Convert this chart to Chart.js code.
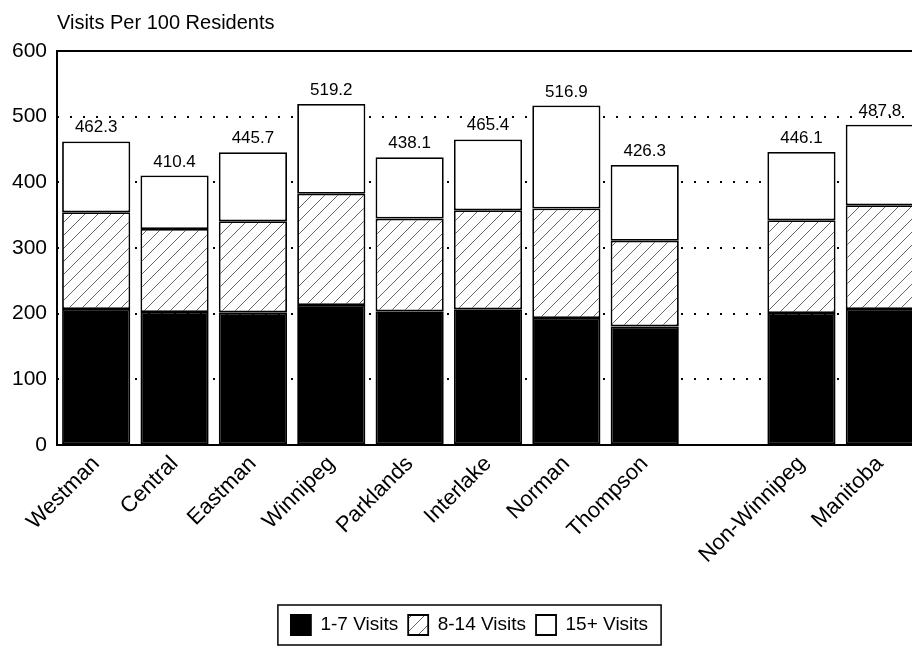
<!DOCTYPE html>
<html>
<head>
<meta charset="utf-8">
<script src="https://cdn.jsdelivr.net/npm/chart.js@4/dist/chart.umd.min.js"></script>
<style>
  html, body { margin: 0; padding: 0; background: #fff; overflow: hidden; }
  #wrap { width: 921px; height: 662px; position: relative; }
</style>
</head>
<body>
<div id="wrap"><canvas id="visitsChart"></canvas></div>
<script>
// categories (empty slot is the gap before the two summary bars)
const regions = ['Westman', 'Central', 'Eastman', 'Winnipeg', 'Parklands', 'Interlake', 'Norman', 'Thompson', '', 'Non-Winnipeg', 'Manitoba']
const visits1to7 = [207.2, 202.6, 202.0, 213.3, 203.6, 206.7, 193.4, 180.6, null, 201.0, 207.2]
const visits8to14 = [147.3, 126.4, 138.7, 169.4, 141.2, 150.8, 166.7, 130.4, null, 141.2, 158.0]
const visits15plus = [107.8, 81.4, 105.0, 136.5, 93.3, 107.9, 156.8, 115.3, null, 103.9, 122.6]
const totals = [462.3, 410.4, 445.7, 519.2, 438.1, 465.4, 516.9, 426.3, null, 446.1, 487.8]
const yTicks = [0, 100, 200, 300, 400, 500, 600]

Chart.defaults.font.family = '"Liberation Sans", Arial, Helvetica, sans-serif'
Chart.defaults.color = '#000'

// diagonal hatch for the 8-14 visits segment
const makeHatch = () => {
    const size = 13
    const c = document.createElement('canvas')
    c.width = size
    c.height = size
    const g = c.getContext('2d')
    g.fillStyle = '#fff'
    g.fillRect(0, 0, size, size)
    g.strokeStyle = '#555'
    g.lineWidth = 0.9
    g.beginPath()
    g.moveTo(0, size)
    g.lineTo(size, 0)
    g.moveTo(-size / 2, size / 2)
    g.lineTo(size / 2, -size / 2)
    g.moveTo(size / 2, size * 1.5)
    g.lineTo(size * 1.5, size / 2)
    g.stroke()
    return g.createPattern(c, 'repeat')
}
const hatch = makeHatch()

// frame, totals above bars and legend border
const decorations = {
    id: 'decorations',
    afterLayout(chart) {
        const lg = chart.legend
        if (lg) { lg.left += 10; lg.right += 10 }
    },
    afterDatasetsDraw(chart) {
        const { ctx, chartArea } = chart
        ctx.save()
        ctx.strokeStyle = '#000'
        ctx.lineWidth = 2
        ctx.beginPath()
        ctx.moveTo(chartArea.right + 5, chartArea.top)
        ctx.lineTo(chartArea.left, chartArea.top)
        ctx.lineTo(chartArea.left, chartArea.bottom)
        ctx.lineTo(chartArea.right + 5, chartArea.bottom)
        ctx.stroke()

        const top = chart.getDatasetMeta(2)
        ctx.font = '17px "Liberation Sans", Arial, sans-serif'
        ctx.fillStyle = '#000'
        ctx.textAlign = 'center'
        ctx.textBaseline = 'alphabetic'
        top.data.forEach((bar, i) => {
            if (totals[i] == null) return
            ctx.fillText(totals[i].toFixed(1), bar.x, bar.y - 9)
        })
        ctx.restore()
    },
    afterDraw(chart) {
        const lg = chart.legend
        if (!lg || !lg.legendHitBoxes.length) return
        const boxes = lg.legendHitBoxes
        const x1 = boxes[0].left - 13
        const x2 = boxes[boxes.length - 1].left + boxes[boxes.length - 1].width + 13
        const { ctx } = chart
        ctx.save()
        ctx.strokeStyle = '#000'
        ctx.lineWidth = 1.5
        ctx.strokeRect(x1, lg.top, x2 - x1, lg.bottom - lg.top)
        ctx.restore()
    }
}

const barStyle = { borderColor: '#000', borderWidth: 1.8, borderSkipped: false, barPercentage: 0.87, categoryPercentage: 1 }

new Chart(document.getElementById('visitsChart'), {
    type: 'bar',
    data: {
        labels: regions,
        datasets: [
            { label: '1-7 Visits', data: visits1to7, backgroundColor: '#000', ...barStyle },
            { label: '8-14 Visits', data: visits8to14, backgroundColor: hatch, ...barStyle },
            { label: '15+ Visits', data: visits15plus, backgroundColor: '#fff', ...barStyle }
        ]
    },
    options: {
        responsive: true,
        maintainAspectRatio: false,
        animation: false,
        layout: { padding: { left: 0, right: 2, top: 0, bottom: 17 } },
        plugins: {
            title: {
                display: true,
                text: 'Visits Per 100 Residents',
                align: 'start',
                fullSize: false,
                color: '#000',
                font: { size: 20, weight: 'normal' },
                padding: { top: 11, bottom: 16 }
            },
            legend: {
                position: 'bottom',
                labels: {
                    boxWidth: 20,
                    boxHeight: 20,
                    padding: 10,
                    color: '#000',
                    font: { size: 19 }
                }
            },
            tooltip: { enabled: false }
        },
        scales: {
            x: {
                stacked: true,
                grid: { display: false, drawTicks: false },
                border: { display: false },
                ticks: {
                    autoSkip: false,
                    maxRotation: 45,
                    minRotation: 45,
                    padding: 6,
                    font: { size: 22 }
                },
                afterFit: axis => { axis.height = 160 }
            },
            y: {
                stacked: true,
                min: yTicks[0],
                max: yTicks[yTicks.length - 1],
                afterBuildTicks: axis => { axis.ticks = yTicks.map(v => ({ value: v })) },
                grid: {
                    drawTicks: false,
                    lineWidth: 2,
                    color: ctx => (ctx.tick && (ctx.tick.value === 0 || ctx.tick.value === 600)) ? 'rgba(0,0,0,0)' : '#000'
                },
                border: { display: false, dash: [2, 11] },
                ticks: { padding: 10, font: { size: 21 } },
                afterFit: axis => { axis.width = 57 }
            }
        }
    },
    plugins: [decorations]
})
</script>
</body>
</html>
